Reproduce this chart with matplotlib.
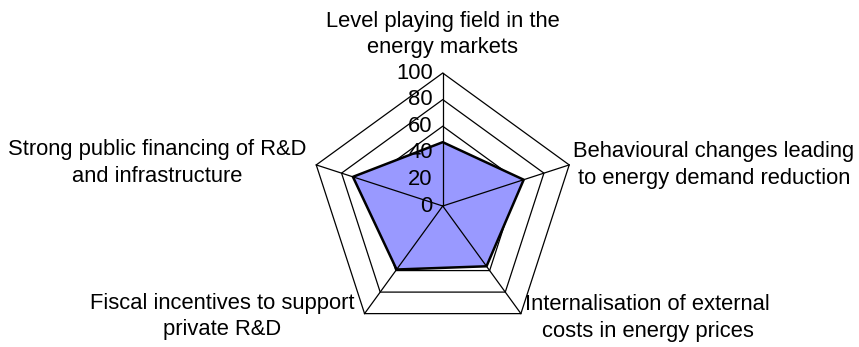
import numpy as np
import matplotlib.pyplot as plt

plt.rcParams['font.family'] = ['Liberation Sans', 'DejaVu Sans']

categories = [
    "Level playing field in the\nenergy markets",
    "Behavioural changes leading\nto energy demand reduction",
    "Internalisation of external\ncosts in energy prices",
    "Fiscal incentives to support\nprivate R&D",
    "Strong public financing of R&D\nand infrastructure",
]
scores = [48, 64, 56, 59, 71]
ring_levels = [20, 40, 60, 80, 100]
tick_labels = ["0", "20", "40", "60", "80", "100"]

# label anchor points (radar units, 100 = outer ring)
label_pos = [(0.0, 129.0), (204.0, 30.8), (154.0, -84.0), (-166.0, -83.0), (-215.0, 32.3)]

n = len(categories)
angles = np.pi / 2 - 2 * np.pi * np.arange(n) / n


def to_xy(vals):
    vals = np.asarray(vals, dtype=float)
    return vals * np.cos(angles), vals * np.sin(angles)


fig = plt.figure(figsize=(8.59, 3.47), dpi=100)
ax = fig.add_axes([0, 0, 1, 1])
ax.set_xlim(-332.9, 313.0)
ax.set_ylim(-106.0, 154.9)
ax.axis('off')

# pentagon grid rings
for lvl in ring_levels:
    x, y = to_xy([lvl] * n)
    ax.fill(x, y, facecolor='none', edgecolor='black', linewidth=0.9, zorder=1)

# data area
x, y = to_xy(scores)
ax.fill(x, y, facecolor='#9999FF', edgecolor='black', linewidth=1.8,
        joinstyle='round', zorder=2)

# spokes over the fill
ox, oy = to_xy([100] * n)
for px, py in zip(ox, oy):
    ax.plot([0, px], [0, py], color='black', linewidth=0.9, zorder=3)

# value scale along the top spoke
for i, t in enumerate(tick_labels):
    ax.text(-7.5, i * 20, t, ha='right', va='center', fontsize=15.8, zorder=4)

for (lx, ly), name in zip(label_pos, categories):
    ax.text(lx, ly, name, ha='center', va='center', fontsize=15.8,
            linespacing=1.36, zorder=4)

fig.savefig('out.png', dpi=100)
